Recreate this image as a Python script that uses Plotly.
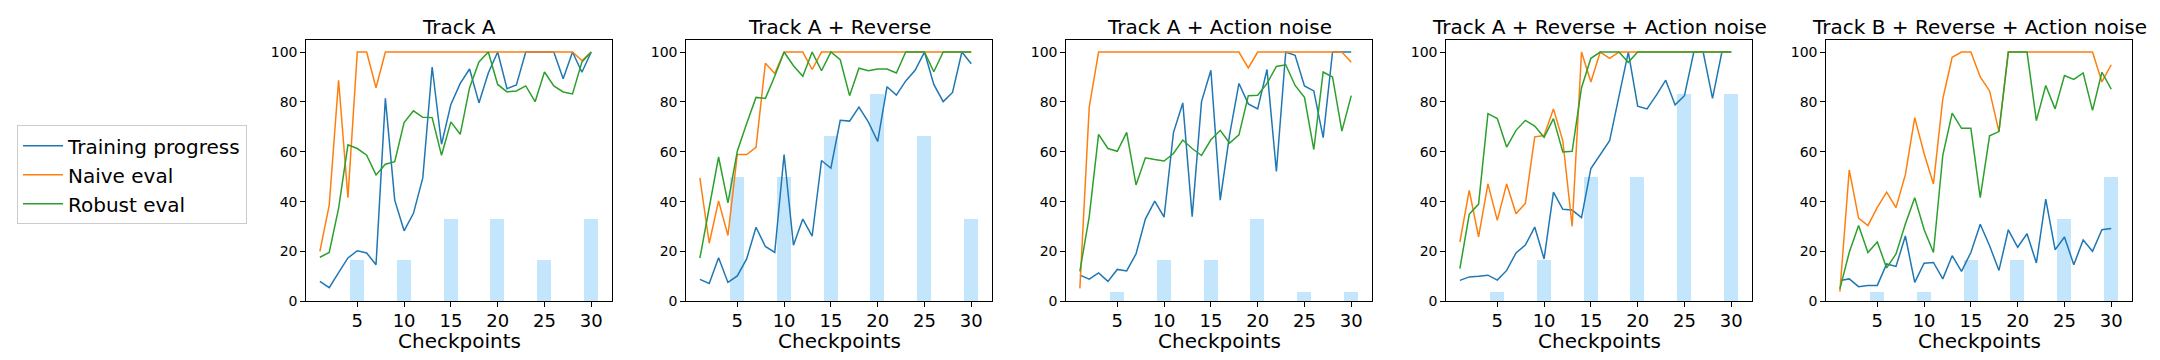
import plotly.graph_objects as go
from plotly.subplots import make_subplots

# checkpoints and panel titles
checkpoints = list(range(1, 31))
bar_checkpoints = [5, 10, 15, 20, 25, 30]
titles = ['Track A', 'Track A + Reverse', 'Track A + Action noise',
          'Track A + Reverse + Action noise', 'Track B + Reverse + Action noise']

# Track A
track_a_training = [8, 5.5, 11.5, 17.4, 20.3, 19.4, 14.7, 81.4, 40.6, 28.3,
                    35.3, 49.5, 94, 63, 79, 87.4, 93.2, 79.6, 91.6, 100,
                    85.3, 86.8, 100, 100, 100, 100, 89.3, 100, 91.9, 100]
track_a_naive = [20, 38.6, 88.7, 41.6, 100, 100, 85.7, 100, 100, 100,
                 100, 100, 100, 100, 100, 100, 100, 100, 100, 100,
                 100, 100, 100, 100, 100, 100, 100, 100, 96.6, 100]
track_a_robust = [17.7, 19.6, 37.3, 62.8, 61.3, 58.6, 50.7, 55, 56, 71.7,
                  76.4, 73.8, 73.7, 58.6, 72, 67, 85.7, 96, 100, 87,
                  84, 84.4, 86.4, 80.1, 92, 86.4, 84, 83.2, 96, 100]
track_a_bars = [16.67, 16.67, 33.33, 33.33, 16.67, 33.33]

# Track A + Reverse
rev_training = [8.8, 7.2, 17.5, 7.6, 10.2, 17, 29.7, 22, 19.6, 58.9,
                22.5, 33, 26.2, 56.5, 53.4, 72.6, 72.3, 77.9, 72, 64.1,
                86.1, 82.7, 88.4, 92.7, 100, 87, 80.1, 83.8, 100, 95.3]
rev_naive = [49.5, 23.3, 40.3, 26.4, 58.9, 58.9, 61.8, 95.5, 91.4, 100,
             100, 100, 93, 100, 100, 100, 99.7, 100, 100, 100,
             100, 100, 100, 100, 100, 100, 100, 100, 100, 100]
rev_robust = [17.3, 38, 57.9, 39.5, 60.2, 71.3, 81.8, 81.4, 90.3, 100,
              94.5, 90.3, 100, 92.5, 100, 96.9, 82.5, 93.5, 92.5, 93.2,
              93.2, 91.6, 100, 100, 100, 92.1, 100, 100, 100, 100]
rev_bars = [50, 50, 66.67, 83.33, 66.67, 33.33]

# Track A + Action noise
noise_training = [10.5, 8.9, 11.4, 8, 12.8, 12.2, 19, 33, 40.2, 33.8,
                  67.7, 79.6, 34, 80.1, 92.7, 40.6, 66.8, 87.4, 79.2, 77.2,
                  93, 52.1, 100, 98.7, 86.4, 84.4, 65.7, 100, 100, 100]
noise_naive = [5.2, 77.9, 100, 100, 100, 100, 100, 100, 100, 100,
               100, 100, 100, 100, 100, 100, 100, 100, 93.6, 100,
               100, 100, 100, 100, 100, 100, 100, 100, 100, 95.9]
noise_robust = [12, 34, 67, 61.3, 60.2, 67.8, 46.7, 57.6, 56.9, 56.3,
                59.3, 64.7, 61.3, 58.5, 64.8, 68.6, 63.5, 66.8, 82.5, 82.7,
                87.4, 94.2, 94.9, 86.6, 81.8, 60.9, 92, 90, 68.3, 82.5]
noise_bars = [4, 16.67, 16.67, 33.33, 4, 4]

# Track A + Reverse + Action noise
rev_noise_training = [8.4, 9.8, 10.1, 10.5, 8.5, 12.4, 19.4, 22.6, 29.8, 17,
                      43.8, 36.9, 36.6, 33.6, 53.3, 58.6, 64.4, 82.2, 100, 78.3,
                      77.2, 82.7, 88.7, 78.8, 82.5, 100, 100, 81.4, 100, 100]
rev_noise_naive = [23.8, 44.5, 25.9, 47.1, 32.5, 47.1, 35.1, 39.3, 66, 66.5,
                   77.2, 64.4, 30.1, 100, 88, 100, 97.5, 100, 100, 100,
                   100, 100, 100, 100, 100, 100, 100, 100, 100, 100]
rev_noise_robust = [13.1, 34.9, 39, 75.3, 73.3, 61.9, 68.6, 72.6, 70.3, 65.8,
                    73.3, 59.9, 60.2, 85.7, 97.5, 100, 100, 100, 95.9, 100,
                    100, 100, 100, 100, 100, 100, 100, 100, 100, 100]
rev_noise_bars = [4, 16.67, 50, 50, 83.33, 83.33]

# Track B + Reverse + Action noise
b_training = [8.4, 9, 5.9, 6.4, 6.4, 15, 14, 26.2, 7.6, 15.3,
              15.6, 9, 18.3, 12, 19.6, 30.9, 22.3, 12.4, 28.7, 21.7,
              27.1, 15.4, 41, 20.7, 25.8, 14.7, 24.6, 20.1, 28.7, 29.2]
b_naive = [3.9, 52.7, 33.4, 30.4, 37.7, 43.8, 37.6, 50.8, 73.7, 59.3,
           47.1, 81.2, 97.9, 100, 100, 90, 84.4, 68.1, 100, 100,
           100, 100, 100, 100, 100, 100, 100, 100, 88, 94.9]
b_robust = [5, 19.6, 30.4, 19.6, 23.8, 13.4, 19, 31, 41.6, 28.8,
            19.6, 58.6, 75.5, 69.4, 69.4, 41.6, 66.4, 68.1, 100, 100,
            100, 72.5, 86.6, 77.2, 90.6, 89, 91.6, 76.6, 91.9, 85.1]
b_bars = [4, 4, 16.67, 16.67, 33.33, 50]

panels = [
    (track_a_training, track_a_naive, track_a_robust, track_a_bars),
    (rev_training, rev_naive, rev_robust, rev_bars),
    (noise_training, noise_naive, noise_robust, noise_bars),
    (rev_noise_training, rev_noise_naive, rev_noise_robust, rev_noise_bars),
    (b_training, b_naive, b_robust, b_bars),
]

W, H = 2160, 360
FONT = 'DejaVu Sans'
colors = ['#1f77b4', '#ff7f0e', '#2ca02c']
names = ['Training progress', 'Naive eval', 'Robust eval']

fig = make_subplots(rows=1, cols=5)

# plot area placement (pixels)
lefts = [298.3, 678.3, 1058.3, 1438.3, 1818.3]
pw = 306
top, bottom = 32.3, 300

for i, (train, naive, robust, bars) in enumerate(panels):
    col = i + 1
    fig.add_trace(go.Bar(x=bar_checkpoints, y=bars, width=1.5,
                         marker=dict(color='rgba(135,206,250,0.5)', line_width=0),
                         showlegend=False, hoverinfo='skip'), row=1, col=col)
    for series, c, n in zip((train, naive, robust), colors, names):
        fig.add_trace(go.Scatter(x=checkpoints, y=series, mode='lines', name=n,
                                 line=dict(color=c, width=1.5),
                                 showlegend=(i == 0)),
                      row=1, col=col)

    suffix = '' if col == 1 else str(col)
    x0 = lefts[i] / W
    x1 = (lefts[i] + pw) / W
    fig.layout['xaxis' + suffix].domain = [x0, x1]
    fig.layout['yaxis' + suffix].domain = [(H - bottom) / H, (H - top) / H]

    # panel title and x-axis label
    fig.add_annotation(text=titles[i], xref='paper', yref='paper',
                       x=(x0 + x1) / 2, y=1 - 19 / H, xanchor='center', yanchor='middle',
                       showarrow=False, font=dict(family=FONT, size=20, color='black'))
    fig.add_annotation(text='Checkpoints', xref='paper', yref='paper',
                       x=(x0 + x1) / 2, y=1 - 341 / H, xanchor='center', yanchor='middle',
                       showarrow=False, font=dict(family=FONT, size=20, color='black'))

fig.update_xaxes(range=[-0.45, 32.25], tickvals=bar_checkpoints,
                 showgrid=False, zeroline=False, showline=True, mirror=True,
                 linecolor='black', linewidth=1, ticks='outside', ticklen=5,
                 ticklabelstandoff=-2,
                 tickcolor='black', tickfont=dict(family=FONT, size=18, color='black'))
fig.update_yaxes(range=[0, 105], tickvals=[0, 20, 40, 60, 80, 100],
                 showgrid=False, zeroline=False, showline=True, mirror=True,
                 linecolor='black', linewidth=1, ticks='outside', ticklen=5,
                 tickcolor='black', tickfont=dict(family=FONT, size=14, color='black'))

fig.update_layout(
    width=W, height=H,
    margin=dict(l=0, r=0, t=0, b=0),
    plot_bgcolor='white', paper_bgcolor='white',
    font=dict(family=FONT, color='black'),
    bargap=0,
    legend=dict(x=9 / W, y=1 - 120 / H, xanchor='left', yanchor='top',
                bgcolor='white', bordercolor='#cccccc', borderwidth=1,
                tracegroupgap=0, itemwidth=40,
                font=dict(family=FONT, size=20, color='black')),
)

fig.write_html("out.html")
